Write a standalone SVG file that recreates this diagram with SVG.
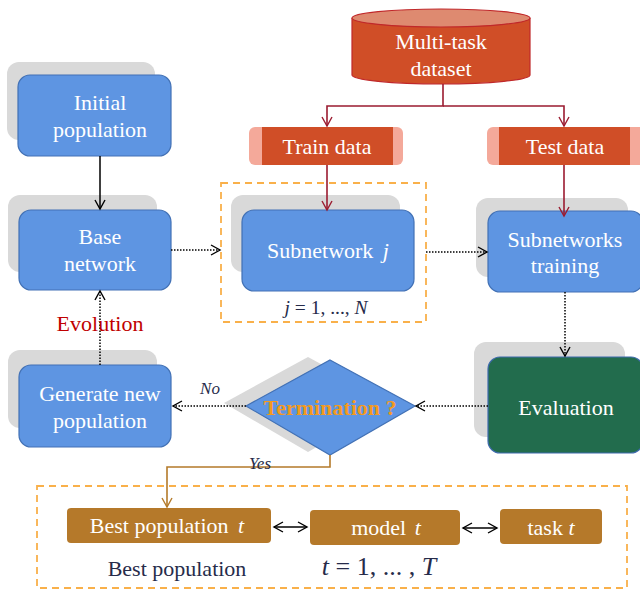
<svg xmlns="http://www.w3.org/2000/svg" width="640" height="591" viewBox="0 0 640 591">
<defs>
<marker id="ah" markerWidth="12" markerHeight="12" refX="10" refY="6" orient="auto" markerUnits="userSpaceOnUse"><path d="M1,1 L10,6 L1,11" fill="none" stroke="#000" stroke-width="1.4"/></marker>
<marker id="ahr" markerWidth="12" markerHeight="12" refX="10" refY="6" orient="auto" markerUnits="userSpaceOnUse"><path d="M1,1 L10,6 L1,11" fill="none" stroke="#9B1B30" stroke-width="1.4"/></marker>
<marker id="ahg" markerWidth="12" markerHeight="12" refX="10" refY="6" orient="auto" markerUnits="userSpaceOnUse"><path d="M1,1 L10,6 L1,11" fill="none" stroke="#B47A2A" stroke-width="1.4"/></marker>
<marker id="ahs" markerWidth="12" markerHeight="12" refX="2" refY="6" orient="auto" markerUnits="userSpaceOnUse"><path d="M11,1 L2,6 L11,11" fill="none" stroke="#000" stroke-width="1.4"/></marker>
</defs>
<style>
.t{font-family:"Liberation Serif","Times New Roman",serif;font-size:22px;fill:#fff;text-anchor:middle}
.n{font-family:"Liberation Serif","Times New Roman",serif;fill:#262B4A;text-anchor:middle}
.sh{fill:#D9D9D9}
.bx{fill:#5E95E2;stroke:#4271B5;stroke-width:1.2}
.dot{fill:none;stroke:#000;stroke-width:1.5;stroke-dasharray:1.5 1.5}
.red{fill:none;stroke:#9B1B30;stroke-width:1.6}
.gold{fill:none;stroke:#B47A2A;stroke-width:1.6}
.dash{fill:none;stroke:#F9B04A;stroke-width:1.8;stroke-dasharray:7 5}
.br{fill:#B5792A}
</style>
<rect width="640" height="591" fill="#fff"/>

<g id="dataset">
<path d="M352,18 V75 A89,9 0 0 0 530,75 V18" fill="#D04E27" stroke="#C0282A" stroke-width="1.2"/>
<ellipse cx="441" cy="18" rx="89" ry="9" fill="#DE8A70" stroke="#C0282A" stroke-width="1.2"/>
<text class="t" x="441" y="49">Multi-task</text>
<text class="t" x="441" y="76">dataset</text>
</g>

<g id="train">
<rect x="249" y="127" width="154" height="38" rx="6" fill="#F4A99A"/>
<rect x="262" y="127" width="131" height="38" fill="#D04E27"/>
<text class="t" x="327" y="154">Train data</text>
</g>
<g id="test">
<rect x="487" y="127" width="158" height="38" rx="6" fill="#F4A99A"/>
<rect x="499" y="127" width="131" height="38" fill="#D04E27"/>
<text class="t" x="565" y="154">Test data</text>
</g>

<g id="initial">
<rect class="sh" x="7" y="62" width="148" height="78" rx="12"/>
<rect class="bx" x="18" y="75" width="153" height="81" rx="12"/>
<text class="t" x="100" y="110">Initial</text>
<text class="t" x="100" y="137">population</text>
</g>

<g id="base">
<rect class="sh" x="8" y="195" width="149" height="77" rx="12"/>
<rect class="bx" x="19" y="210" width="152" height="80" rx="12"/>
<text class="t" x="100" y="244">Base</text>
<text class="t" x="100" y="271">network</text>
</g>

<g id="subnet">
<rect class="dash" x="221" y="183" width="205" height="139"/>
<rect class="sh" x="231" y="195" width="169" height="77" rx="12"/>
<rect class="bx" x="242" y="210" width="172" height="81" rx="12"/>
<text class="t" x="328" y="258">Subnetwork <tspan font-style="italic" dx="4">j</tspan></text>
<text class="n" x="326" y="314" font-size="19.5"><tspan font-style="italic">j</tspan> = 1, ..., <tspan font-style="italic">N</tspan></text>
</g>

<g id="training">
<rect class="sh" x="476" y="198" width="152" height="79" rx="12"/>
<rect class="bx" x="488" y="211" width="155" height="81" rx="12"/>
<text class="t" x="565" y="247">Subnetworks</text>
<text class="t" x="565" y="273">training</text>
</g>

<g id="evaluation">
<rect class="sh" x="474" y="342" width="151" height="95" rx="12"/>
<rect x="488" y="357" width="155" height="96" rx="12" fill="#226C4D" stroke="#3F6AAE" stroke-width="1.2"/>
<text class="t" x="566" y="415">Evaluation</text>
</g>

<g id="termination">
<polygon points="308,357 393,403 308,452 224,403" fill="#D9D9D9"/>
<polygon points="330,360 415,406 330,455 246,406" fill="#5E95E2" stroke="#4271B5" stroke-width="1.2"/>
<text x="330" y="415" font-family="Liberation Serif,serif" font-size="22" font-weight="bold" fill="#F39A1E" text-anchor="middle">Termination ?</text>
</g>

<g id="generate">
<rect class="sh" x="8" y="350" width="149" height="78" rx="12"/>
<rect class="bx" x="19" y="365" width="152" height="82" rx="12"/>
<text class="t" x="100" y="401">Generate new</text>
<text class="t" x="100" y="428">population</text>
</g>

<g id="best">
<rect class="dash" x="37" y="486" width="590" height="102"/>
<rect class="br" x="67" y="508" width="204" height="35" rx="4"/>
<text class="t" x="167" y="533">Best population <tspan font-style="italic" dx="4">t</tspan></text>
<rect class="br" x="310" y="510" width="150" height="35" rx="4"/>
<text class="t" x="386" y="535">model <tspan font-style="italic" dx="3">t</tspan></text>
<rect class="br" x="500" y="509" width="102" height="35" rx="4"/>
<text class="t" x="551" y="535">task <tspan font-style="italic">t</tspan></text>
<text class="n" x="177" y="576" font-size="22">Best population</text>
<text class="n" x="379" y="575" font-size="26"><tspan font-style="italic">t</tspan> = 1, ... , <tspan font-style="italic">T</tspan></text>
</g>

<g id="connectors">
<polyline class="red" points="443,84 443,106 327,106 327,126" marker-end="url(#ahr)"/>
<polyline class="red" points="443,106 564,106 564,126" marker-end="url(#ahr)"/>
<line class="red" x1="327" y1="165" x2="327" y2="210" marker-end="url(#ahr)"/>
<line class="red" x1="564" y1="165" x2="564" y2="216" marker-end="url(#ahr)"/>
<line x1="100" y1="156" x2="100" y2="209" stroke="#000" stroke-width="1.5" marker-end="url(#ah)"/>
<line class="dot" x1="171" y1="250" x2="220" y2="250" marker-end="url(#ah)"/>
<line class="dot" x1="426" y1="252" x2="487" y2="252" marker-end="url(#ah)"/>
<line class="dot" x1="565" y1="292" x2="565" y2="356" marker-end="url(#ah)"/>
<line class="dot" x1="488" y1="406" x2="416" y2="406" marker-end="url(#ah)"/>
<line class="dot" x1="246" y1="406" x2="173" y2="406" marker-end="url(#ah)"/>
<line class="dot" x1="100" y1="365" x2="100" y2="291" marker-end="url(#ah)"/>
<polyline class="gold" points="330,455 330,467 167,467 167,507" marker-end="url(#ahg)"/>
<line x1="274" y1="527" x2="307" y2="527" stroke="#000" stroke-width="1.5" marker-start="url(#ahs)" marker-end="url(#ah)"/>
<line x1="463" y1="528" x2="497" y2="528" stroke="#000" stroke-width="1.5" marker-start="url(#ahs)" marker-end="url(#ah)"/>
<text x="210" y="394" font-family="Liberation Serif,serif" font-style="italic" font-size="17" fill="#262B4A" text-anchor="middle">No</text>
<text x="260" y="469" font-family="Liberation Serif,serif" font-style="italic" font-size="17" fill="#262B4A" text-anchor="middle">Yes</text>
<text x="100" y="331" font-family="Liberation Serif,serif" font-size="22" fill="#C00000" text-anchor="middle">Evolution</text>
</g>
</svg>
